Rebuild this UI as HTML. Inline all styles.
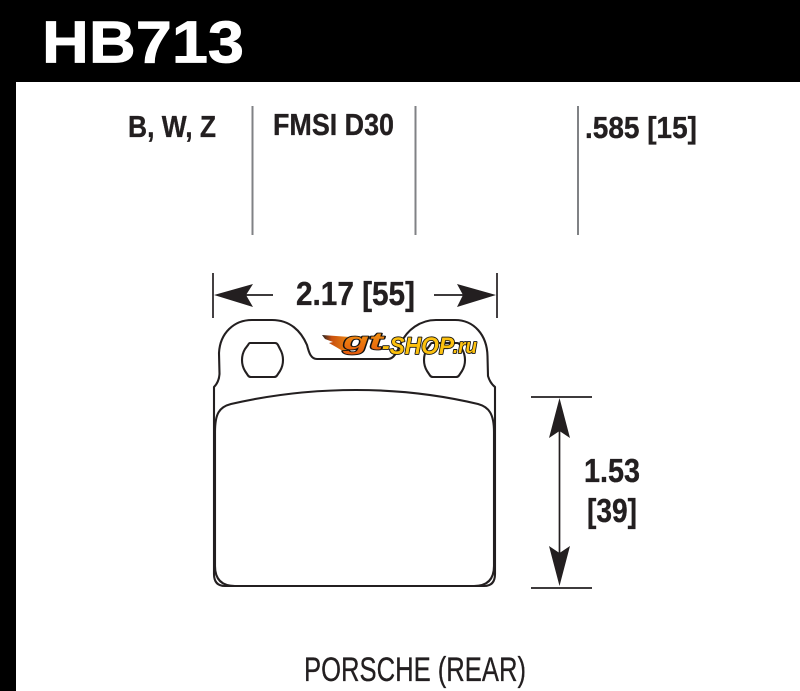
<!DOCTYPE html>
<html><head><meta charset="utf-8"><style>
html,body{margin:0;padding:0;background:#fff;width:800px;height:691px;overflow:hidden}
svg{display:block}
text{font-family:"Liberation Sans",sans-serif;fill:#231f20}
.b{font-weight:700;stroke:#231f20;stroke-width:.35}
.l{font-weight:700;font-style:italic;paint-order:stroke;stroke:#111;stroke-width:1.800;stroke-linejoin:round}
</style></head><body>
<svg width="800" height="691" viewBox="0 0 800 691" xmlns="http://www.w3.org/2000/svg">
<defs>
<linearGradient id="fl" x1="0" x2="1" y1="0" y2="0"><stop offset="0" stop-color="#222"/><stop offset=".35" stop-color="#c9500f"/><stop offset="1" stop-color="#f08a10"/></linearGradient>
<linearGradient id="gt" x1="0" x2="0" y1="0" y2="1"><stop offset="0" stop-color="#f59a12"/><stop offset="1" stop-color="#e4570c"/></linearGradient>
</defs>
<rect width="800" height="691" fill="#fff"/>
<rect x="0" y="0" width="800" height="82" fill="#000"/>
<rect x="0" y="0" width="16" height="691" fill="#000"/>
<text x="42" y="62.500" font-size="59" font-weight="700" textLength="202" lengthAdjust="spacingAndGlyphs" style="fill:#fff;stroke:#fff;stroke-width:.8">HB713</text>
<text class="b" x="128" y="137" font-size="31" textLength="88" lengthAdjust="spacingAndGlyphs">B, W, Z</text>
<text class="b" x="273" y="135" font-size="31" textLength="121" lengthAdjust="spacingAndGlyphs">FMSI D30</text>
<text class="b" x="585" y="138" font-size="31" textLength="112" lengthAdjust="spacingAndGlyphs">.585 [15]</text>
<g stroke="#808285" stroke-width="2" fill="none">
<line x1="252.500" y1="106" x2="252.500" y2="235"/>
<line x1="415.500" y1="106" x2="415.500" y2="235"/>
<line x1="578" y1="106" x2="578" y2="235"/>
</g>
<g stroke="#231f20" fill="none">
<line x1="213" y1="273" x2="213" y2="318" stroke-width="1.700"/>
<line x1="497" y1="273" x2="497" y2="318" stroke-width="1.700"/>
<line x1="230" y1="295" x2="273" y2="295" stroke-width="1.700"/>
<line x1="434" y1="295" x2="480" y2="295" stroke-width="1.700"/>
<line x1="531" y1="397" x2="592" y2="397" stroke-width="1.700"/>
<line x1="531" y1="588" x2="592" y2="588" stroke-width="1.700"/>
<line x1="559.500" y1="420" x2="559.500" y2="565" stroke-width="1.700"/>
</g>
<g fill="#231f20">
<path d="M214,295 L253,284 L246,295 L253,307 Z"/>
<path d="M496,295 L457,284 L463,295 L457,307 Z"/>
<path d="M559.500,398 L549,438 L559.500,431 L570,438 Z"/>
<path d="M559.500,586 L549,546 L559.500,553 L570,546 Z"/>
</g>
<text class="b" x="296" y="305" font-size="33" textLength="119" lengthAdjust="spacingAndGlyphs">2.17 [55]</text>
<text class="b" x="584" y="482" font-size="33" textLength="56" lengthAdjust="spacingAndGlyphs">1.53</text>
<text class="b" x="587" y="522" font-size="33" textLength="50" lengthAdjust="spacingAndGlyphs">[39]</text>
<text x="304" y="681" font-size="34" textLength="222" lengthAdjust="spacingAndGlyphs" style="stroke:#231f20;stroke-width:.3">PORSCHE (REAR)</text>
<g fill="none" stroke="#231f20" stroke-width="2.100" stroke-linejoin="round">
<path d="M214,574 L214,387 Q219,382 219.500,374 L219,353 C220,333 234,320 252,320 L272,320 C290,320 301,331 307,345 C309,353 311,359 317,359 L388,359 C394,359 397,352 401,343 C407,330 420,320 436,320 L455,320 C474,320 487,335 487.500,356 L488,376 Q490,383 495,387 L495,574 Q495,586 484,586 L225,586 Q214,586 214,574 Z"/>
<path d="M215,432 C215,414 219,407 231,404 C270,395 310,390 356,390 C400,390 440,395 478,404 C489,407 494,414 494,432 L494,566 Q494,586 474,586 M215,432 L215,566 Q215,586 235,586"/>
<path d="M250,343 L275,343 Q277,343 278,345 L280,349 Q283,354 283,360 Q283,366 280,371 L277,375.500 Q276,377 274,377 L251,377 Q249,377 248,375.500 L245,371 Q242,366 242,360 Q242,354 245,349 L248,345 Q249,343 250,343 Z"/>
<path d="M432,343 L457,343 Q459,343 460,345 L462,349 Q465,354 465,360 Q465,366 462,371 L459,375.500 Q458,377 456,377 L433,377 Q431,377 430,375.500 L427,371 Q424,366 424,360 Q424,354 427,349 L430,345 Q431,343 432,343 Z"/>
</g>
<!-- logo -->
<path d="M322,335 L350,337 L346,354 L341,350 L336,347 L329,343 L333,342 L325,339 Z" fill="url(#fl)"/>
<text class="l" x="343" y="349.500" font-size="24" textLength="40" lengthAdjust="spacingAndGlyphs" style="fill:url(#gt)">gt</text>
<text class="l" x="382" y="354" font-size="24" textLength="72" lengthAdjust="spacingAndGlyphs" style="fill:#fcc10f">-SHOP</text>
<text class="l" x="453" y="353" font-size="20" textLength="24" lengthAdjust="spacingAndGlyphs" style="fill:#fcc10f">.ru</text>
</svg>
</body></html>
